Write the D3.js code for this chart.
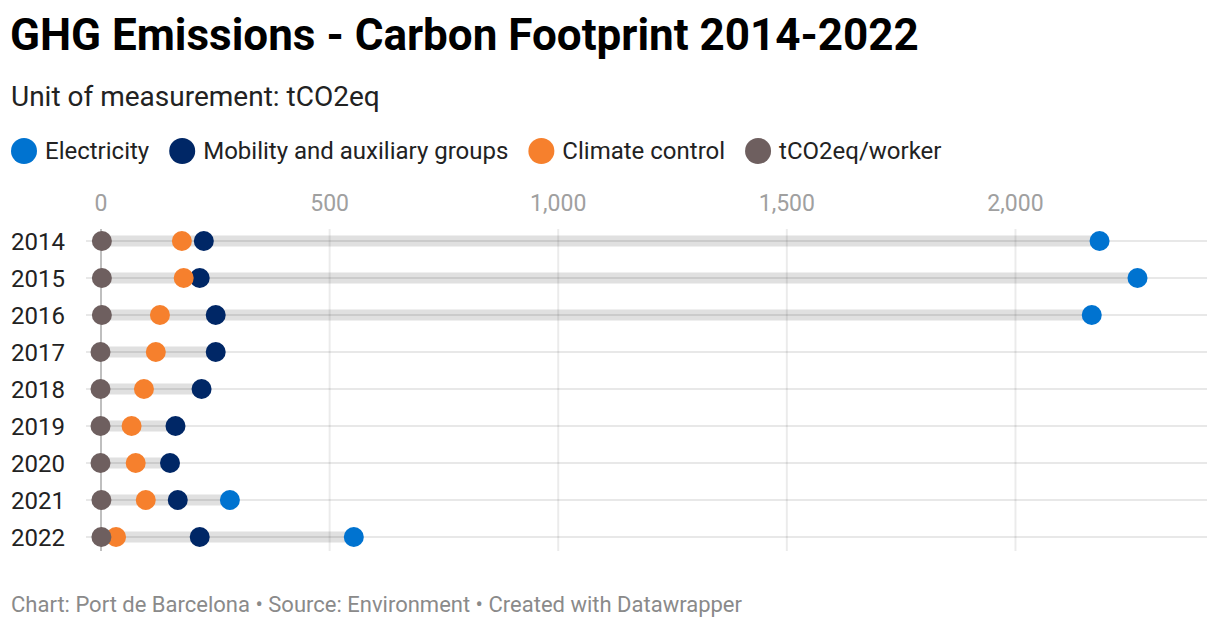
<!DOCTYPE html>
<html>
<head>
<meta charset="utf-8">
<script src="https://cdn.jsdelivr.net/npm/d3@7"></script>
<style>
  body { margin: 0; background: #fff; }
  svg { display: block; font-family: Roboto, "Noto Sans", sans-serif; }
</style>
</head>
<body>
<svg id="chart" width="1220" height="628"></svg>
<script>
// data (tCO2eq)
var years = ["2014", "2015", "2016", "2017", "2018", "2019", "2020", "2021", "2022"];
var electricity = [2185, 2268, 2168, null, null, null, null, 283, 554];
var mobility = [226, 217, 252, 252, 221, 164, 152, 169, 217];
var climate = [178, 182, 130, 121, 95, 68, 77, 99, 34];
var perWorker = [3, 3, 3, 0, 0, 0, 0, 2, 2];
var ticks = [0, 500, 1000, 1500, 2000];

var series = [
    {name: "Electricity", color: "#0073d0", values: electricity},
    {name: "Mobility and auxiliary groups", color: "#002766", values: mobility},
    {name: "Climate control", color: "#f6802d", values: climate},
    {name: "tCO2eq/worker", color: "#6e5f5f", values: perWorker}
];

var svg = d3.select("#chart");

var x = d3.scaleLinear().domain([0, 2420]).range([100.5, 1207]);
var y = d3.scalePoint().domain(years).range([241, 537]);

// header
svg.append("text")
        .attr("x", 10).attr("y", 50)
        .style("font-size", "44px").style("font-weight", "700").style("fill", "#000")
        .text("GHG Emissions - Carbon Footprint 2014-2022");
svg.append("text")
        .attr("x", 11).attr("y", 106)
        .style("font-size", "28px").style("fill", "#222")
        .text("Unit of measurement: tCO2eq");

// legend
var lx = 11;
series.forEach(function (s) {
    var g = svg.append("g");
    g.append("circle").attr("cx", lx + 13).attr("cy", 151).attr("r", 13).style("fill", s.color);
    var t = g.append("text")
            .attr("x", lx + 34).attr("y", 158.5)
            .style("font-size", "24px").style("fill", "#222")
            .text(s.name);
    lx = lx + 34 + t.node().getComputedTextLength() + 20;
});

// range bars behind everything
var rows = years.map(function (yr, i) {
    var vals = series.map(function (s) { return s.values[i]; })
            .filter(function (v) { return v != null; });
    return {year: yr, min: d3.min(vals), max: d3.max(vals)};
});
svg.append("g").selectAll("rect").data(rows).join("rect")
        .attr("x", function (d) { return x(d.min); })
        .attr("y", function (d) { return y(d.year) - 5.5; })
        .attr("width", function (d) { return x(d.max) - x(d.min); })
        .attr("height", 11)
        .style("fill", "#e0e0e0");

// x axis: gridlines + labels on top
var axis = d3.axisTop(x).tickValues(ticks).tickSize(-322).tickPadding(0)
        .tickFormat(d3.format(","));
var ax = svg.append("g").attr("transform", "translate(0,229)").call(axis);
ax.select(".domain").remove();
ax.selectAll(".tick line")
        .style("stroke", function (d) { return d === 0 ? "rgba(0,0,0,0.25)" : "rgba(0,0,0,0.08)"; })
        .style("stroke-width", 2);
ax.selectAll(".tick text")
        .attr("y", -18)
        .style("font-size", "23px").style("fill", "#a0a0a0")
        .style("font-family", "Roboto, sans-serif");

// row lines
svg.append("g").selectAll("line").data(years).join("line")
        .attr("x1", 86).attr("x2", 1207)
        .attr("y1", function (d) { return y(d); })
        .attr("y2", function (d) { return y(d); })
        .style("stroke", "rgba(0,0,0,0.09)").style("stroke-width", 2);

// year labels
svg.append("g").selectAll("text").data(years).join("text")
        .attr("x", 11)
        .attr("y", function (d) { return y(d) + 9; })
        .style("font-size", "24px").style("fill", "#222")
        .text(function (d) { return d; });

// dots
series.forEach(function (s) {
    var pts = years.map(function (yr, i) { return {year: yr, v: s.values[i]}; })
            .filter(function (d) { return d.v != null; });
    svg.append("g").selectAll("circle").data(pts).join("circle")
            .attr("cx", function (d) { return x(d.v); })
            .attr("cy", function (d) { return y(d.year); })
            .attr("r", 10)
            .style("fill", s.color);
});

// footer
svg.append("text")
        .attr("x", 11).attr("y", 612)
        .style("font-size", "22px").style("fill", "#8a8a8a")
        .text("Chart: Port de Barcelona \u2022 Source: Environment \u2022 Created with Datawrapper");
</script>
</body>
</html>
